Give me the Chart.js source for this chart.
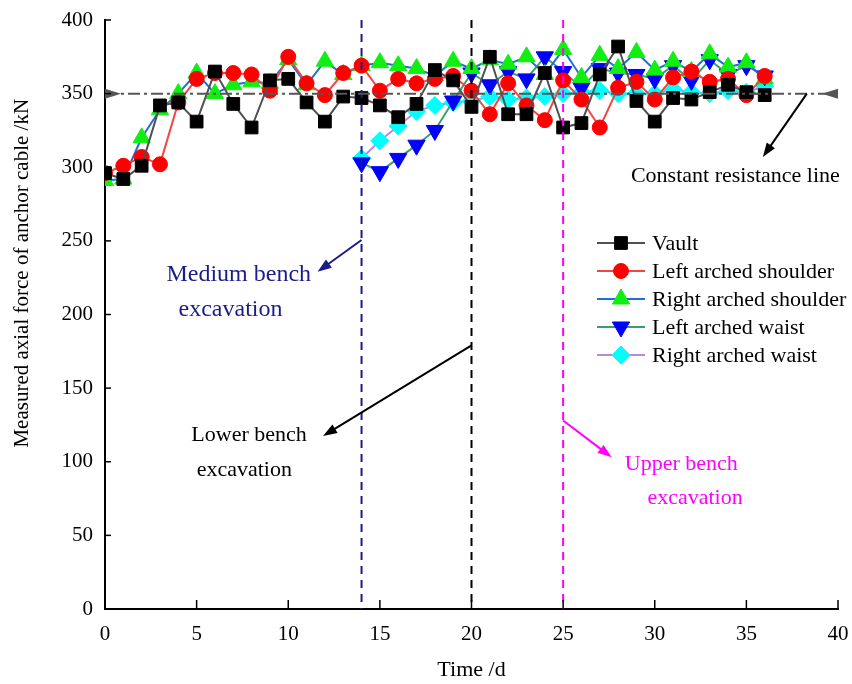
<!DOCTYPE html>
<html>
<head>
<meta charset="utf-8">
<script src="https://cdn.jsdelivr.net/npm/chart.js@4.4.1/dist/chart.umd.min.js"></script>
<style>
  html, body { margin: 0; padding: 0; background: #fff; }
  #wrap { width: 852px; height: 684px; }
</style>
</head>
<body>
<div id="wrap"><canvas id="axialChart" width="852" height="684"></canvas></div>
<script>
// monitoring days (d)
const days = [0, 1, 2, 3, 4, 5, 6, 7, 8, 9, 10, 11, 12, 13, 14, 15, 16, 17, 18,
  19, 20, 21, 22, 23, 24, 25, 26, 27, 28, 29, 30, 31, 32, 33, 34, 35, 36];
// the two arched-waist cables were installed on day 14
const waistDays = days.slice(14);

// measured axial force (kN)
const vault = [296, 292, 301, 342, 344, 331, 365, 343, 327, 359, 360, 344, 331, 348, 347, 342, 334, 343, 366,
  359, 341, 375, 336, 336, 364, 327, 330, 363, 382, 345, 331, 347, 346, 351, 356, 351, 349];
const leftShoulder = [296, 301, 307, 302, 344, 360, 364, 364, 363, 352, 375, 357, 349, 364, 369, 352, 360, 357, 360,
  362, 352, 336, 357, 342, 332, 359, 346, 327, 354, 358, 346, 361, 365, 358, 360, 349, 362];
const rightShoulder = [291, 292, 320, 339, 350, 364, 350, 356, 358, 357, 373, 356, 372, 363, 369, 371, 369, 367, 362,
  372, 367, 373, 370, 375, 363, 380, 361, 376, 367, 378, 366, 372, 365, 377, 368, 371, 360];
const leftWaist = [303, 297, 306, 315, 325, 345, 364, 356, 365, 360, 375, 365, 354, 367, 364, 363, 360, 369, 359,
  373, 363, 369, 362];
const rightWaist = [306, 318, 328, 338, 342, 344, 345, 348, 346, 347, 348, 350, 351, 352, 350, 350, 350, 353, 351,
  350, 352, 351, 355];

const constantResistance = 350;
const stageDays = [14, 20, 25];
const stageColors = ['#1c1c88', '#000000', '#ff00ff'];

const xTicks = [0, 5, 10, 15, 20, 25, 30, 35, 40];
const yTicks = [0, 50, 100, 150, 200, 250, 300, 350, 400];

const serif = '"Liberation Serif", "Times New Roman", serif';

function pairs(xs, ys) {
  return ys.map((v, i) => ({ x: xs[i], y: v }));
}

function series(label, xs, ys, line, fill, style, radius, rotation) {
  return {
    label: label,
    data: pairs(xs, ys),
    borderColor: line,
    borderWidth: 2,
    backgroundColor: fill,
    pointStyle: style,
    pointRadius: radius,
    pointRotation: rotation || 0,
    pointBackgroundColor: fill,
    pointBorderColor: fill,
    pointBorderWidth: 1,
    tension: 0,
    clip: 0
  };
}

function arrow(ctx, x1, y1, x2, y2, color) {
  const a = Math.atan2(y2 - y1, x2 - x1);
  const head = 14, half = 5;
  const c = Math.cos(a), s = Math.sin(a);
  ctx.save();
  ctx.strokeStyle = color;
  ctx.fillStyle = color;
  ctx.lineWidth = 2;
  ctx.beginPath();
  ctx.moveTo(x1, y1);
  ctx.lineTo(x2 - c * head * 0.7, y2 - s * head * 0.7);
  ctx.stroke();
  ctx.beginPath();
  ctx.moveTo(x2, y2);
  ctx.lineTo(x2 - head * c + half * s, y2 - head * s - half * c);
  ctx.lineTo(x2 - head * c - half * s, y2 - head * s + half * c);
  ctx.closePath();
  ctx.fill();
  ctx.restore();
}

// reference lines, inner tick marks, notes and the legend box
const overlay = {
  id: 'overlay',
  afterDatasetsDraw(chart) {
    const ctx = chart.ctx;
    const xs = chart.scales.x, ys = chart.scales.y;
    const area = chart.chartArea;

    // construction stage lines
    ctx.save();
    ctx.lineWidth = 2;
    ctx.setLineDash([8, 6]);
    stageDays.forEach((d, i) => {
      const px = xs.getPixelForValue(d);
      ctx.strokeStyle = stageColors[i];
      ctx.beginPath();
      ctx.moveTo(px, ys.getPixelForValue(400));
      ctx.lineTo(px, ys.getPixelForValue(0));
      ctx.stroke();
    });
    ctx.restore();

    // constant resistance line
    const py = ys.getPixelForValue(constantResistance);
    ctx.save();
    ctx.strokeStyle = '#555555';
    ctx.fillStyle = '#555555';
    ctx.lineWidth = 2;
    ctx.setLineDash([12, 4, 3, 4]);
    ctx.beginPath();
    ctx.moveTo(area.left, py);
    ctx.lineTo(area.right, py);
    ctx.stroke();
    ctx.setLineDash([]);
    ctx.beginPath();
    ctx.moveTo(area.left, py - 5);
    ctx.lineTo(area.left + 16, py);
    ctx.lineTo(area.left, py + 5);
    ctx.closePath();
    ctx.fill();
    ctx.beginPath();
    ctx.moveTo(area.right, py - 5);
    ctx.lineTo(area.right - 16, py);
    ctx.lineTo(area.right, py + 5);
    ctx.closePath();
    ctx.fill();
    ctx.restore();
  },
  afterDraw(chart) {
    const ctx = chart.ctx;
    const xs = chart.scales.x, ys = chart.scales.y;
    const area = chart.chartArea;
    const X = v => xs.getPixelForValue(v);
    const Y = v => ys.getPixelForValue(v);

    // tick marks pointing into the plot
    ctx.save();
    ctx.strokeStyle = '#000';
    ctx.lineWidth = 1.5;
    xTicks.forEach(t => {
      ctx.beginPath();
      ctx.moveTo(X(t), area.bottom);
      ctx.lineTo(X(t), area.bottom - 9);
      ctx.stroke();
    });
    yTicks.forEach(t => {
      ctx.beginPath();
      ctx.moveTo(area.left, Y(t));
      ctx.lineTo(area.left + 6, Y(t));
      ctx.stroke();
    });
    ctx.restore();

    // y axis title
    ctx.save();
    ctx.font = '21px ' + serif;
    ctx.fillStyle = '#000';
    ctx.textAlign = 'center';
    ctx.textBaseline = 'middle';
    ctx.translate(22, Y(228));
    ctx.rotate(-Math.PI / 2);
    ctx.fillText('Measured axial force of anchor cable /kN', 0, 0);
    ctx.restore();

    // notes
    ctx.save();
    ctx.font = '22px ' + serif;
    ctx.textAlign = 'center';
    ctx.textBaseline = 'middle';

    arrow(ctx, X(38.3), Y(350), X(35.9), Y(307), '#000');
    ctx.fillStyle = '#000';
    ctx.fillText('Constant resistance line', X(34.4), Y(294));

    arrow(ctx, X(20), Y(179), X(11.9), Y(117.5), '#000');
    ctx.fillText('Lower bench', X(7.86), Y(118));
    ctx.fillText('excavation', X(7.6), Y(94.4));

    arrow(ctx, X(25), Y(128), X(27.65), Y(103), '#ff00ff');
    ctx.fillStyle = '#ff00ff';
    ctx.fillText('Upper bench', X(31.45), Y(98.5));
    ctx.fillText('excavation', X(32.2), Y(75.4));

    arrow(ctx, X(14), Y(250.6), X(11.6), Y(229), '#1c1c88');
    ctx.fillStyle = '#1c1c88';
    ctx.font = '24px ' + serif;
    ctx.fillText('Medium bench', X(7.3), Y(227));
    ctx.fillText('excavation', X(6.85), Y(203));
    ctx.restore();

    // legend
    ctx.save();
    ctx.font = '22px ' + serif;
    ctx.textAlign = 'left';
    ctx.textBaseline = 'middle';
    chart.data.datasets.forEach((ds, i) => {
      const ly = 243 + i * 28;
      ctx.strokeStyle = ds.borderColor;
      ctx.lineWidth = 2;
      ctx.setLineDash([]);
      ctx.beginPath();
      ctx.moveTo(597, ly);
      ctx.lineTo(645, ly);
      ctx.stroke();
      ctx.fillStyle = ds.pointBackgroundColor;
      ctx.strokeStyle = ds.pointBorderColor;
      ctx.lineWidth = 1;
      Chart.helpers.drawPoint(ctx, {
        pointStyle: ds.pointStyle,
        radius: ds.pointRadius,
        rotation: ds.pointRotation,
        borderWidth: 1
      }, 621, ly);
      ctx.fillStyle = '#000';
      ctx.fillText(ds.label, 652, ly + 1);
    });
    ctx.restore();
  }
};

const ctx = document.getElementById('axialChart').getContext('2d');
const axialChart = new Chart(ctx, {
  type: 'line',
  data: {
    datasets: [
      series('Vault', days, vault, '#505050', '#000000', 'rect', 9),
      series('Left arched shoulder', days, leftShoulder, '#f04646', '#ff0000', 'circle', 7.5),
      series('Right arched shoulder', days, rightShoulder, '#1f6fd6', '#11ee11', 'triangle', 10),
      series('Left arched waist', waistDays, leftWaist, '#3a9d6e', '#0000ff', 'triangle', 10, 180),
      series('Right arched waist', waistDays, rightWaist, '#b48ae0', '#00ffff', 'rectRot', 9)
    ]
  },
  options: {
    responsive: false,
    animation: false,
    layout: { padding: { top: 20, right: 14, left: 0, bottom: 0 } },
    plugins: {
      legend: { display: false },
      tooltip: { enabled: false }
    },
    scales: {
      x: {
        type: 'linear',
        min: 0,
        max: 40,
        afterFit: s => { s.height = 75; s.paddingLeft = 0; s.paddingRight = 0; },
        afterBuildTicks: s => { s.ticks = xTicks.map(v => ({ value: v })); },
        ticks: { color: '#000', padding: 13, font: { family: serif, size: 21 } },
        grid: { display: false, drawTicks: false },
        border: { color: '#000', width: 2 },
        title: {
          display: true,
          text: 'Time /d',
          color: '#000',
          padding: { top: 0, bottom: 1 },
          font: { family: serif, size: 22 }
        }
      },
      y: {
        min: 0,
        max: 400,
        afterFit: s => { s.width = 105; s.paddingTop = 0; s.paddingBottom = 0; },
        afterBuildTicks: s => { s.ticks = yTicks.map(v => ({ value: v })); },
        ticks: { color: '#000', padding: 12, font: { family: serif, size: 21 } },
        grid: { display: false, drawTicks: false },
        border: { color: '#000', width: 2 }
      }
    }
  },
  plugins: [overlay]
});
</script>
</body>
</html>
